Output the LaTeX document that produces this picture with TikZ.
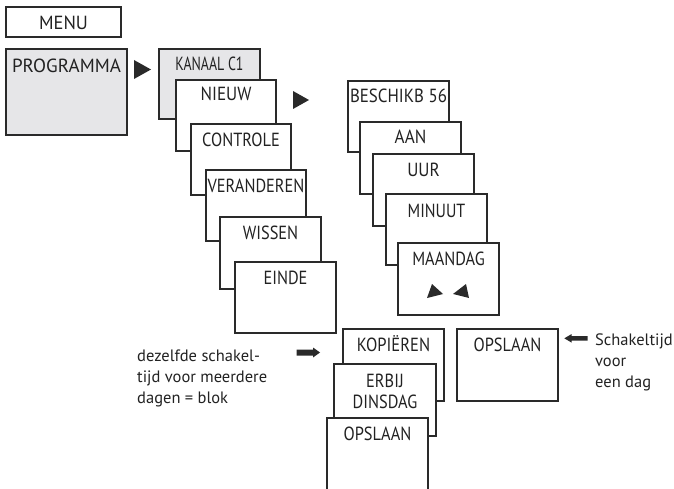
\documentclass[tikz,border=0pt]{standalone}
\usepackage{fontspec}
\setmainfont{PT Sans}
\definecolor{linec}{HTML}{2A2A2A}
\definecolor{grayf}{HTML}{E6E6E8}
\definecolor{txtc}{HTML}{222222}
\newcommand{\lbfont}{\fontsize{19}{21}\selectfont}
\newcommand{\ntfont}{\fontsize{16.5}{21}\selectfont}
\newcommand{\sq}[2][0.86]{\scalebox{#1}[1]{#2}}
\tikzset{
  box/.style={draw=linec, line width=1.1pt, fill=white, anchor=north west, inner sep=0pt, outer sep=0pt, minimum width=101pt, minimum height=71pt},
  gbox/.style={box, fill=grayf},
  lbl/.style={anchor=base, inner sep=0pt, font=\lbfont, text=txtc, align=center},
  note/.style={anchor=base west, inner sep=0pt, font=\ntfont, text=txtc, align=left},
  tri/.style={fill=linec},
}
\begin{document}
\begin{tikzpicture}[x=1pt,y=-1pt]
\useasboundingbox (0,0) rectangle (674,489);
% MENU
\node[box, minimum width=115pt, minimum height=30pt] (menu) at (6,7) {};
\path (menu.north) ++(0,23) node[lbl] {\sq[0.97]{MENU}};
% PROGRAMMA
\node[gbox, minimum width=121pt, minimum height=86pt] (prog) at (6,49) {};
\path (prog.north) ++(0,24) node[lbl] {PROGRAMMA};
\fill[tri] (134,60) -- (151,69.5) -- (134,79) -- cycle;
% first stack
\node[gbox, minimum height=70pt] (kanaal) at (159,49) {};
\path (kanaal.north) ++(0,22) node[lbl] {\sq[0.73]{KANAAL C1}};
\node[box, minimum width=100pt] (nieuw) at (176,80) {};
\path (nieuw.north) ++(0,21) node[lbl] {\sq[0.9]{NIEUW}};
\node[box, minimum width=100pt] (controle) at (191,124) {};
\path (controle.north) ++(0,23) node[lbl] {\sq{CONTROLE}};
\node[box, minimum width=100pt] (veranderen) at (206,170) {};
\path (veranderen.north) ++(0,23) node[lbl] {\sq{VERANDEREN}};
\node[box, minimum height=72pt] (wissen) at (220,217) {};
\path (wissen.north) ++(0,22) node[lbl] {\sq{WISSEN}};
\node[box] (einde) at (235,262) {};
\path (einde.north) ++(0,22) node[lbl] {\sq{EINDE}};
\fill[tri] (293,91) -- (309,100) -- (293,109) -- cycle;
% second stack
\node[box] (beschikb) at (348,81) {};
\path (beschikb.north) ++(0,22) node[lbl] {\sq[0.89]{BESCHIKB 56}};
\node[box, minimum height=72pt] (aan) at (360,122) {};
\path (aan.north) ++(0,22) node[lbl] {\sq[0.9]{AAN}};
\node[box, minimum height=72pt] (uur) at (373,154) {};
\path (uur.north) ++(0,22) node[lbl] {\sq[0.9]{UUR}};
\node[box] (minuut) at (386,194) {};
\path (minuut.north) ++(0,23) node[lbl] {\sq[0.84]{MINUUT}};
\node[box, minimum height=72pt] (maandag) at (398,243) {};
\path (maandag.north) ++(0,22) node[lbl] {\sq{MAANDAG}};
\fill[tri] (427,298) -- (432,284) -- (443,294) -- cycle;
\fill[tri] (453,294) -- (466,284) -- (469,298) -- cycle;
% third stack
\node[box, minimum height=72pt] (kopieren) at (343,329) {};
\path (kopieren.north) ++(0,22) node[lbl] {\sq[0.87]{KOPIËREN}};
\node[box, minimum width=102pt, minimum height=72pt] (erbij) at (334,364) {};
\path (erbij.north) ++(0,44) node[lbl] {\sq{ERBIJ}\\\sq{DINSDAG}};
\node[box, draw=none, minimum height=76pt] (opslaanA) at (327,418) {};
\draw[draw=linec, line width=1.1pt] (opslaanA.south west) -- (opslaanA.north west) -- (opslaanA.north east) -- (opslaanA.south east);
\path (opslaanA.north) ++(0,22) node[lbl] {\sq{OPSLAAN}};
% single box
\node[box, minimum height=72pt] (opslaanB) at (457,329) {};
\path (opslaanB.north) ++(0,22) node[lbl] {\sq{OPSLAAN}};
% notes
\node[note] (noteL) at (137,403) {dezelfde schakel-\\tijd voor meerdere\\dagen = blok};
\fill[tri] (296.7,349.5) -- (313,349.5) -- (313,347.5) -- (320,352.5) -- (313,357.5) -- (313,355.5) -- (296.7,355.5) -- cycle;
\node[note] (noteR) at (595,387) {Schakeltijd\\voor\\een dag};
\fill[tri] (587.7,336) -- (571.7,336) -- (571.7,334) -- (564.3,338.3) -- (571.7,342.7) -- (571.7,340.7) -- (587.7,340.7) -- cycle;
\end{tikzpicture}
\end{document}
